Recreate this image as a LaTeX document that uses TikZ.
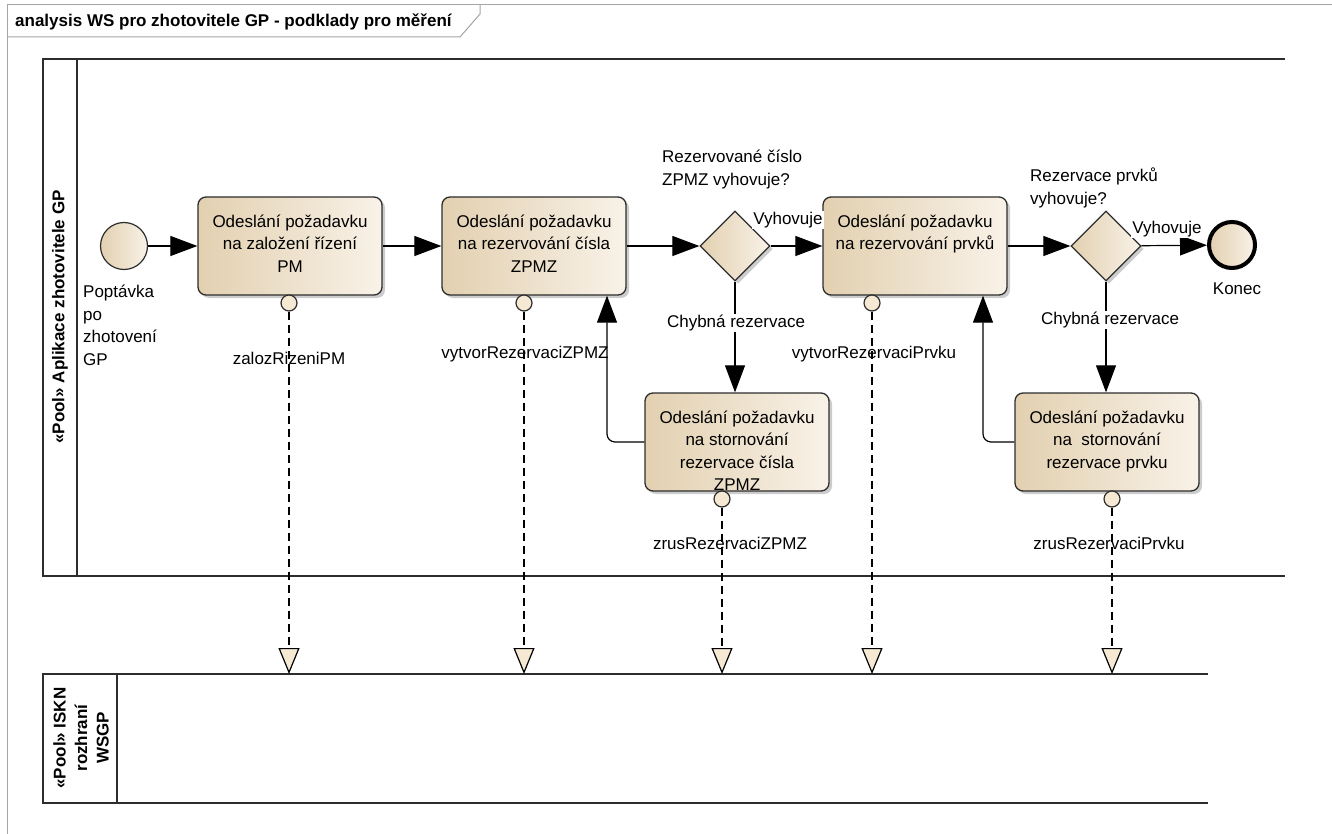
\documentclass[tikz,border=0pt]{standalone}
\usepackage{fontspec}
\setmainfont{Liberation Sans}
\usetikzlibrary{shapes.geometric,arrows.meta,shadows,positioning}

\definecolor{bpmndark}{RGB}{226,208,176}
\definecolor{bpmnlight}{RGB}{249,242,232}
\definecolor{msgfill}{RGB}{246,233,212}
\definecolor{framegray}{RGB}{165,165,165}
\definecolor{linegray}{RGB}{45,45,45}

\begin{document}
\begin{tikzpicture}[x=1pt,y=-1pt,
  txt/.style={font=\fontsize{17}{22.5}\selectfont,inner sep=0pt},
  boldtxt/.style={font=\fontsize{17}{21.5}\selectfont\bfseries,inner sep=0pt},
  flowlbl/.style={txt,fill=white,inner sep=1pt},
  task/.style={draw=linegray,line width=1.3pt,rounded corners=8pt,minimum width=184pt,minimum height=98pt,left color=bpmndark,right color=bpmnlight,drop shadow={shadow xshift=3pt,shadow yshift=-3pt,fill=black!40,opacity=.5}},
  tasktext/.style={txt,align=center,anchor=north},
  gateway/.style={diamond,draw=linegray,line width=1.3pt,minimum width=70pt,minimum height=70pt,inner sep=0pt,left color=bpmndark,right color=bpmnlight,drop shadow={shadow xshift=3pt,shadow yshift=-3pt,fill=black!40,opacity=.5}},
  startevent/.style={circle,draw=linegray,line width=1.2pt,minimum size=47pt,inner sep=0pt,left color=bpmndark,right color=bpmnlight},
  endevent/.style={circle,draw=black,line width=4pt,minimum size=46pt,inner sep=0pt,left color=bpmndark,right color=bpmnlight},
  msgdot/.style={circle,draw=linegray,line width=1.2pt,fill=msgfill,minimum size=16pt,inner sep=0pt},
  seq/.style={draw=black,line width=1.2pt,-{Triangle[length=27pt,width=20pt]}},
  msg/.style={draw=black,line width=1.2pt,dash pattern=on 8pt off 5pt,-{Triangle[length=26pt,width=21pt,fill=msgfill]}},
  pool/.style={draw=linegray,line width=1.3pt}]

  \useasboundingbox (0,0) rectangle (1332,834);

  \draw [framegray,line width=1pt] (7,834) -- (7,5) -- (1332,5);
  \draw [framegray,line width=1pt] (7,37) -- (460,37) -- (480,14) -- (480,5);
  \node [boldtxt,anchor=west] (title) at (15,22) {analysis WS pro zhotovitele GP - podklady pro měření};

  \draw [pool] (1285,59) -- (43,59) -- (43,576) -- (1285,576);
  \draw [pool] (77,59) -- (77,576);
  \node [boldtxt,rotate=90] (pool1) at (60,317) {«Pool» Aplikace zhotovitele GP};

  \draw [pool] (1208,674) -- (43,674) -- (43,803) -- (1208,803);
  \draw [pool] (117,674) -- (117,803);
  \node [boldtxt,rotate=90,align=center] (pool2) at (81,738) {«Pool» ISKN\\rozhraní\\WSGP};
  \coordinate (iskntop) at (43,674);

  \node [startevent] (start) at (124,246) {};
  \node [task] (t1) at (290,246) {};
  \node [task] (t2) at (534,246) {};
  \node [gateway] (g1) at (735,246) {};
  \node [task] (t3) at (915,246) {};
  \node [gateway] (g2) at (1106,246) {};
  \node [endevent] (konec) at (1232,245) {};
  \node [task] (t4) at (737,442) {};
  \node [task] (t5) at (1107,442) {};

  \node [tasktext] (t1text) at ([yshift=-18pt]t1.north) {Odeslání požadavku\\na založení řízení\\PM};
  \node [tasktext] (t2text) at ([yshift=-18pt]t2.north) {Odeslání požadavku\\na rezervování čísla\\ZPMZ};
  \node [tasktext] (t3text) at ([yshift=-18pt]t3.north) {Odeslání požadavku\\na rezervování prvků};
  \node [tasktext] (t4text) at ([yshift=-18pt]t4.north) {Odeslání požadavku\\na stornování\\rezervace čísla\\ZPMZ};
  \node [tasktext] (t5text) at ([yshift=-18pt]t5.north) {Odeslání požadavku\\na~ stornování\\rezervace prvku};

  \draw [seq] (start) -- (t1);
  \draw [seq] (t1) -- (t2);
  \draw [seq] (t2) -- (g1);
  \draw [seq] (g1) -- (t3);
  \draw [seq] (t3) -- (g2);
  \draw [seq] (g2) -- (konec);
  \draw [seq] (g1) -- (g1 |- t4.north);
  \draw [seq] (g2) -- (g2 |- t5.north);
  \draw [seq,rounded corners=8pt] (t4.west) -| ([xshift=73pt]t2.south);
  \draw [seq,rounded corners=8pt] (t5.west) -| ([xshift=68pt]t3.south);

  \node [msgdot] (d1) at (289,303) {};
  \node [msgdot] (d2) at (524,303) {};
  \node [msgdot] (d3) at (872,303) {};
  \node [msgdot] (d4) at (722,499) {};
  \node [msgdot] (d5) at (1112,499) {};

  \draw [msg] (d1) -- (d1 |- iskntop);
  \draw [msg] (d2) -- (d2 |- iskntop);
  \draw [msg] (d3) -- (d3 |- iskntop);
  \draw [msg] (d4) -- (d4 |- iskntop);
  \draw [msg] (d5) -- (d5 |- iskntop);

  \node [txt,align=left,anchor=north west] (startlbl) at (83,285) {Poptávka\\po\\zhotovení\\GP};
  \node [txt] (koneclbl) at (1237,289) {Konec};
  \node [txt,align=left,anchor=north west] (g1q) at (662,150) {Rezervované číslo\\ZPMZ vyhovuje?};
  \node [txt,align=left,anchor=north west] (g2q) at (1030,168) {Rezervace prvků\\vyhovuje?};
  \node [flowlbl] (ok1) at (788,220) {Vyhovuje};
  \node [flowlbl] (ok2) at (1167,229) {Vyhovuje};
  \node [flowlbl] (err1) at (736,323) {Chybná rezervace};
  \node [flowlbl] (err2) at (1110,320) {Chybná rezervace};

  \node [txt] (m1) at (289,358) {zalozRizeniPM};
  \node [txt] (m2) at (525,354) {vytvorRezervaciZPMZ};
  \node [txt] (m3) at (874,354) {vytvorRezervaciPrvku};
  \node [txt] (m4) at (730,543) {zrusRezervaciZPMZ};
  \node [txt] (m5) at (1109,543) {zrusRezervaciPrvku};
\end{tikzpicture}
\end{document}
